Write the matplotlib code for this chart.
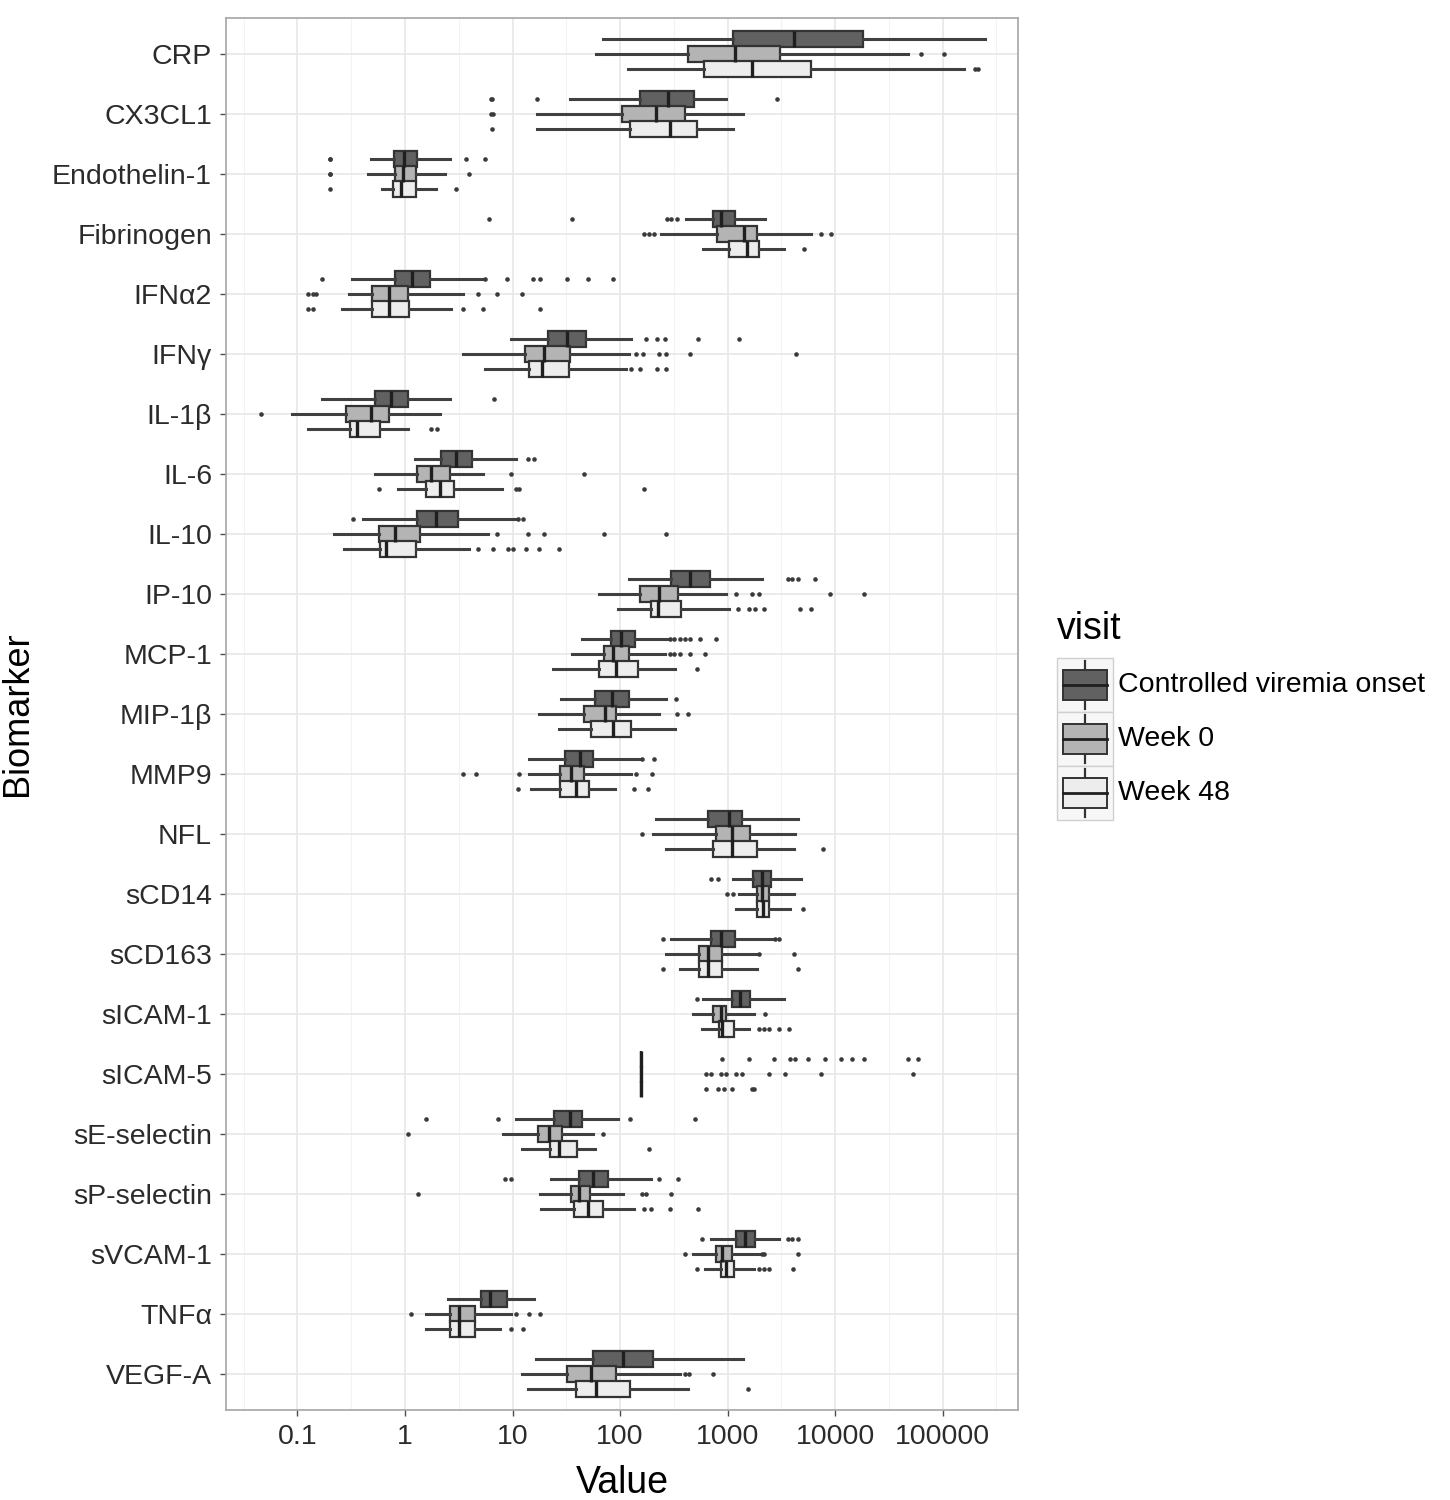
import numpy as np
import matplotlib.pyplot as plt
from matplotlib.patches import Rectangle
from matplotlib.ticker import FixedLocator, NullFormatter

plt.rcParams["font.family"] = ["Liberation Sans", "DejaVu Sans"]

biomarkers = ["CRP", "CX3CL1", "Endothelin-1", "Fibrinogen", "IFNα2", "IFNγ",
              "IL-1β", "IL-6", "IL-10", "IP-10", "MCP-1", "MIP-1β", "MMP9", "NFL",
              "sCD14", "sCD163", "sICAM-1", "sICAM-5", "sE-selectin", "sP-selectin",
              "sVCAM-1", "TNFα", "VEGF-A"]
visits = ["Controlled viremia onset", "Week 0", "Week 48"]
visit_colors = ["#616161", "#b4b4b4", "#ededed"]

# (lower whisker, Q1, median, Q3, upper whisker) per biomarker
ctrl_box = [(69, 1120, 4170, 18200, 250000), (34, 155, 278, 486, 970),
            (0.48, 0.79, 0.98, 1.29, 2.6), (410, 735, 870, 1170, 2230),
            (0.32, 0.81, 1.16, 1.71, 5.5), (9.7, 21.5, 32, 48, 126),
            (0.17, 0.53, 0.74, 1.07, 2.6), (1.24, 2.16, 3.0, 4.2, 10.8),
            (0.41, 1.3, 1.95, 3.1, 10.8), (121, 298, 450, 690, 2100),
            (44, 82, 102, 138, 278), (28, 59, 84, 121, 268),
            (14.2, 31, 42, 56, 150), (216, 660, 1030, 1350, 4530),
            (1120, 1730, 2100, 2530, 4800), (300, 705, 870, 1170, 2580),
            (590, 1090, 1310, 1620, 3370), (158, 158, 158, 158, 158),
            (10.8, 24.3, 34, 44, 96), (23, 41.5, 56, 78, 194),
            (705, 1210, 1450, 1800, 3000), (2.5, 5.1, 6.2, 8.9, 15.8),
            (16.5, 56, 107, 202, 1390)]
ctrl_out = [[], [6.3, 6.5, 17, 2890], [0.2, 0.2, 3.7, 5.5], [6.0, 36, 275, 300, 340],
            [0.17, 5.6, 8.9, 15.4, 18, 32, 50, 86], [175, 220, 260, 530, 1280],
            [6.7], [14, 16], [0.33, 11.3, 12.5], [3650, 4000, 4530, 6500],
            [290, 320, 360, 400, 450, 550, 780], [330], [160, 207], [],
            [705, 815], [250, 2750, 3000], [520],
            [890, 1580, 2700, 3800, 4250, 5600, 8100, 11400, 14400, 18600, 47500, 59000],
            [1.57, 7.3, 124, 500], [8.5, 9.7, 230, 347], [575, 3650, 4000, 4500], [], []]

wk0_box = [(60, 430, 1170, 3080, 48000), (17, 105, 216, 400, 1390),
           (0.45, 0.81, 0.96, 1.27, 2.36), (240, 800, 1420, 1870, 6000),
           (0.30, 0.49, 0.71, 1.07, 3.5), (3.5, 13, 19.6, 34, 120),
           (0.089, 0.28, 0.48, 0.71, 2.1), (0.53, 1.3, 1.75, 2.6, 5.3),
           (0.22, 0.57, 0.81, 1.38, 5.9), (64, 155, 230, 347, 970),
           (36, 71, 86, 121, 260), (17.7, 46, 72.7, 92, 230),
           (14.2, 27.6, 35, 46, 126), (202, 780, 1090, 1620, 4260),
           (1280, 1870, 2100, 2450, 4150), (268, 540, 660, 890, 1870),
           (475, 735, 870, 970, 1780), (158, 158, 158, 158, 158),
           (8.2, 17.3, 22, 29, 56), (18, 35, 41.5, 52.5, 107),
           (475, 780, 890, 1090, 1970), (1.57, 2.6, 3.2, 4.5, 9.7),
           (12.3, 32, 54, 92, 360)]
wk0_out = [[63000, 103000], [6.3, 6.6], [0.2, 0.2, 3.9], [167, 185, 208, 7400, 9100],
           [0.126, 0.14, 0.15, 4.8, 7.1, 12.3], [140, 165, 230, 270, 450, 4350],
           [0.046], [9.7, 46], [7.1, 13.9, 19.6, 71, 268],
           [1210, 1700, 1970, 8900, 18600], [290, 320, 360, 450, 620], [340, 430],
           [3.5, 4.6, 11.5, 140, 198], [160], [990, 1120], [1970, 4150], [2230],
           [630, 705, 870, 970, 1210, 1350, 2450, 3400, 7400, 53000],
           [1.07, 69], [1.32, 160, 175, 300], [400, 2100, 2200, 4500],
           [1.14, 10.8, 14.2, 18], [400, 440, 735]]

wk48_box = [(118, 606, 1700, 6000, 158000), (17, 124, 290, 520, 1120),
            (0.61, 0.77, 0.92, 1.27, 1.95), (590, 1030, 1510, 1970, 3370),
            (0.26, 0.49, 0.71, 1.09, 2.7), (5.6, 14.2, 19, 33.5, 114),
            (0.126, 0.31, 0.36, 0.59, 1.07), (0.86, 1.57, 2.1, 2.85, 8.0),
            (0.27, 0.59, 0.66, 1.27, 3.9), (96, 194, 225, 370, 1030),
            (24, 64, 92, 147, 325), (27, 54, 86, 126, 325),
            (14.9, 27.6, 39, 51.5, 89), (268, 735, 1090, 1870, 4150),
            (1210, 1870, 2150, 2450, 3830), (360, 540, 660, 890, 1870),
            (575, 830, 890, 1140, 1580), (158, 158, 158, 158, 158),
            (12.3, 22.4, 27, 40, 59), (18.4, 37, 50, 69, 134),
            (620, 870, 970, 1140, 1780), (1.57, 2.6, 3.2, 4.5, 7.7),
            (13.8, 39, 60, 124, 430)]
wk48_out = [[200000, 215000], [6.4], [0.2, 3.0], [5150], [0.126, 0.14, 3.5, 5.3, 18],
            [126, 155, 220, 270], [1.74, 2.0], [0.57, 10.8, 11.5, 167],
            [4.8, 6.6, 9.1, 10.1, 13.3, 17.6, 27], [1240, 1600, 1800, 2200, 4700, 6000],
            [520], [], [11.3, 134, 183], [7750], [5000], [250, 4530],
            [1970, 2200, 2450, 3000, 3700], [630, 815, 920, 1090, 1700, 1780],
            [186], [167, 194, 290, 530], [520, 1970, 2200, 2450, 4060],
            [9.7, 12.5], [1550]]

x_ticks = [0.1, 1, 10, 100, 1000, 10000, 100000]
x_ticklabels = ["0.1", "1", "10", "100", "1000", "10000", "100000"]

W, H = 1450, 1500
fig = plt.figure(figsize=(W / 100, H / 100), dpi=100)
ax = fig.add_axes([226 / W, 1 - 1410 / H, (1018 - 226) / W, (1410 - 18) / H])

line_col = "#333333"
pos = np.arange(len(biomarkers))
for k, (boxes, outs) in enumerate([(ctrl_box, ctrl_out), (wk0_box, wk0_out),
                                    (wk48_box, wk48_out)]):
    stats = [dict(whislo=b[0], q1=b[1], med=b[2], q3=b[3], whishi=b[4], fliers=o)
             for b, o in zip(boxes, outs)]
    ax.bxp(stats, positions=pos + (k - 1) * 0.255, widths=0.27,
           orientation="horizontal", patch_artist=True, showcaps=False,
           boxprops=dict(facecolor=visit_colors[k], edgecolor=line_col, linewidth=1.6),
           medianprops=dict(color="#1f1f1f", linewidth=2.4),
           whiskerprops=dict(color="#404040", linewidth=2.2),
           flierprops=dict(marker="o", markersize=3.3, markerfacecolor="#3a3a3a",
                           markeredgecolor="none"),
           manage_ticks=False)

ax.set_xscale("log")
ax.set_xlim(10 ** -1.665, 10 ** 5.702)
ax.set_ylim(len(biomarkers) - 1 + 0.6, -0.6)
ax.xaxis.set_major_locator(FixedLocator(x_ticks))
ax.xaxis.set_minor_locator(FixedLocator([10 ** (e + 0.5) for e in range(-2, 6)]))
ax.xaxis.set_minor_formatter(NullFormatter())
ax.set_xticklabels(x_ticklabels)
ax.set_yticks(pos)
ax.set_yticklabels(biomarkers)

ax.set_axisbelow(True)
ax.grid(True, which="major", color="#e6e6e6", linewidth=1.1)
ax.grid(True, which="minor", axis="x", color="#f3f3f3", linewidth=0.8)
ax.tick_params(which="major", length=4, width=1, color="#4d4d4d", pad=6,
               labelsize=20.5, labelcolor="#2b2b2b")
ax.tick_params(which="minor", length=0)
for s in ax.spines.values():
    s.set_color("#a6a6a6")
    s.set_linewidth(1.2)

ax.set_xlabel("Value", fontsize=27, va="center")
ax.xaxis.set_label_coords(0.5, (1410 - 1483) / 1392)
ax.set_ylabel("Biomarker", fontsize=26, va="center")
ax.yaxis.set_label_coords((18 - 226) / 792, 0.5)

# legend drawn in pixel coordinates
lax = fig.add_axes([1040 / W, 1 - 830 / H, 410 / W, 240 / H])
lax.set_xlim(1040, 1450)
lax.set_ylim(830, 590)
lax.axis("off")
lax.text(1057, 629, "visit", fontsize=27, va="center", ha="left")
for k, label in enumerate(visits):
    top = 658 + k * 54
    lax.add_patch(Rectangle((1057, top), 56, 54, facecolor="#f7f7f7",
                            edgecolor="#d0d0d0", linewidth=1))
    lax.plot([1085, 1085], [top + 3, top + 51], color=line_col, linewidth=1.6)
    lax.add_patch(Rectangle((1063, top + 12), 44, 30, facecolor=visit_colors[k],
                            edgecolor=line_col, linewidth=1.4, zorder=3))
    lax.plot([1063, 1107], [top + 27, top + 27], color="#1f1f1f", linewidth=2,
             zorder=4)
    lax.text(1118, top + 27, label, fontsize=20.5, va="center", ha="left")

fig.savefig("out.png", dpi=100)
